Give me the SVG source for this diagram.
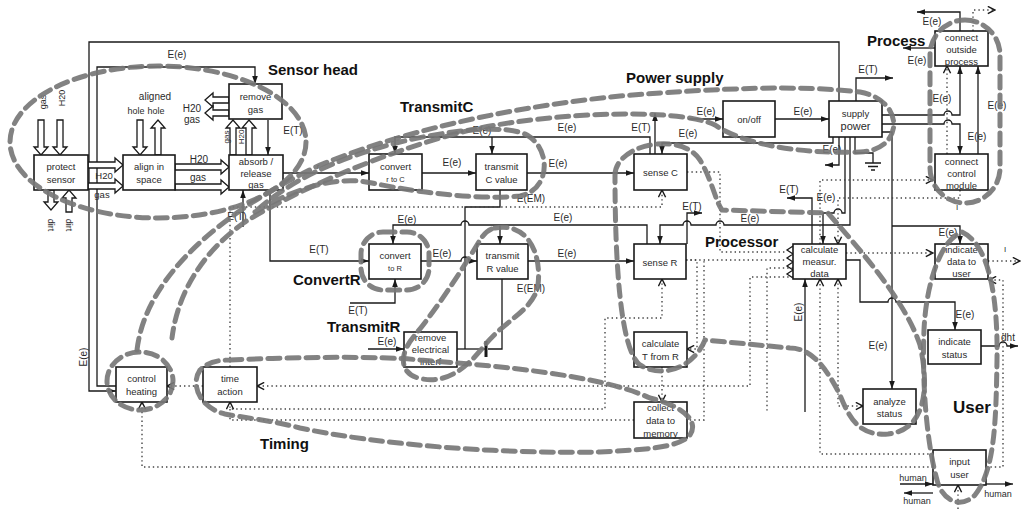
<svg xmlns="http://www.w3.org/2000/svg" width="1024" height="509" viewBox="0 0 1024 509">
<defs>
<style>
.b{fill:#fff;stroke:#1a1a1a;stroke-width:1.6}
.t{font-family:"Liberation Sans",Arial,sans-serif;font-size:9.5px;fill:#2a2a2a;text-anchor:middle}
.s{font-size:7.5px}
.l{font-family:"Liberation Sans",Arial,sans-serif;font-size:10px;fill:#2a2a2a;text-anchor:middle}
.g{font-family:"Liberation Sans",Arial,sans-serif;font-size:15px;font-weight:bold;fill:#111}
.c{fill:none;stroke:#1a1a1a;stroke-width:1.3}
.d{fill:none;stroke:#444;stroke-width:1.4;stroke-dasharray:1.4 3}
.h{fill:#fff;stroke:#1a1a1a;stroke-width:1.3}
.lp{fill:none;stroke:#777;stroke-width:5;stroke-dasharray:12 7;stroke-linecap:round;opacity:0.92}
</style>
<marker id="ar" markerUnits="userSpaceOnUse" markerWidth="8" markerHeight="8" viewBox="0 0 10 10" refX="10" refY="5" orient="auto-start-reverse"><path d="M0,1.5L10,5L0,8.5Z" fill="#1a1a1a"/></marker>
<marker id="op" markerUnits="userSpaceOnUse" markerWidth="9" markerHeight="9" viewBox="0 0 10 10" refX="9" refY="5" orient="auto-start-reverse"><path d="M1,1L9,5L1,9" fill="none" stroke="#1a1a1a" stroke-width="1.6"/></marker>
</defs>
<rect width="1024" height="509" fill="#fff"/>

<g id="connectors">
<path class="c" d="M839,101V42H89V391H116" marker-end="url(#ar)"/>
<path class="c" d="M116,386H97V67H255V84" marker-end="url(#ar)"/>
<path class="c" d="M268,120V155" marker-end="url(#ar)"/>
<path class="c" d="M283,173H369" marker-end="url(#ar)"/>
<path class="c" d="M422,173H476" marker-end="url(#ar)"/>
<path class="c" d="M527,173H634" marker-end="url(#ar)"/>
<path class="c" d="M650,154V137H395V154" marker-end="url(#ar)"/>
<path class="c" d="M492,137V154" marker-end="url(#ar)"/>
<path class="c" d="M655,154V113" marker-end="url(#ar)"/>
<path class="c" d="M833,137V143H662V154" marker-end="url(#ar)"/>
<path class="c" d="M688,119H723" marker-end="url(#ar)"/>
<path class="c" d="M775,119H829" marker-end="url(#ar)"/>
<path class="c" d="M856,101V78H893" marker-end="url(#ar)"/>
<path class="c" d="M882,115H944a4,4 0 0 1 8,0H960V66" marker-end="url(#ar)"/>
<path class="c" d="M882,124H944a4,4 0 0 1 8,0H960V154" marker-end="url(#ar)"/>
<path class="c" d="M978,154V66" marker-end="url(#ar)"/>
<path class="c" d="M960,31V12H917" marker-end="url(#ar)"/>
<path class="c" d="M935,48H903" marker-end="url(#ar)"/>
<path class="c" d="M855,137V153H873V163M865,163H881M868,166.5H878M871,170H875"/>
<path class="c" d="M839,137V165H825" marker-end="url(#ar)"/>
<path class="c" d="M845,137V213H842a4,4 0 0 0 -8,0H823V244" marker-end="url(#ar)"/>
<path class="c" d="M850,137V225H724a4,4 0 0 0 -8,0H691a4,4 0 0 0 -8,0H660V244" marker-end="url(#ar)"/>
<path class="c" d="M647,244V225H469a4,4 0 0 0 -8,0H393V244" marker-end="url(#ar)"/>
<path class="c" d="M500,225V244" marker-end="url(#ar)"/>
<path class="c" d="M812,244V198H787" marker-end="url(#ar)"/>
<path class="c" d="M687,244V213H702" marker-end="url(#ar)"/>
<path class="c" d="M882,132H892V389" marker-end="url(#ar)"/>
<path class="c" d="M892,226H960V244" marker-end="url(#ar)"/>
<path class="c" d="M846,260H860V302H888a4,4 0 0 1 8,0H955V330" marker-end="url(#ar)"/>
<path class="c" d="M981,346H999a4,4 0 0 1 8,0H1018" marker-end="url(#ar)"/>
<path class="c" d="M805,412V279" marker-end="url(#ar)"/>
<path class="c" d="M270,190V261H369" marker-end="url(#ar)"/>
<path class="c" d="M350,303H395V279" marker-end="url(#ar)"/>
<path class="c" d="M421,261H461a4,4 0 0 1 8,0H477" marker-end="url(#ar)"/>
<path class="c" d="M528,261H634" marker-end="url(#ar)"/>
<path class="c" d="M500,190V207H465V349"/>
<path class="c" d="M502,279V349H488"/>
<path class="c" d="M457,349H485"/>
<path d="M486,341V357" stroke="#1a1a1a" stroke-width="3"/>
<path class="c" d="M368,349H404" marker-end="url(#ar)"/>
<path class="c" d="M243,227V190" marker-end="url(#ar)"/>
<path class="c" d="M900,484H933" marker-end="url(#ar)"/>
<path class="c" d="M933,493H904" marker-end="url(#ar)"/>
<path class="c" d="M986,484H1013" marker-end="url(#ar)"/>
<path class="c" d="M793,246L787,250L793,254L787,258L793,262L787,266L793,270L787,274L793,278"/>
<path class="d" d="M230,367V207H662V190" marker-end="url(#op)"/>
<path class="d" d="M793,277H750V386H257" marker-end="url(#op)"/>
<path class="d" d="M203,386H167" marker-end="url(#op)"/>
<path class="d" d="M230,402V409H605V318H662V279" marker-start="url(#op)" marker-end="url(#op)"/>
<path class="d" d="M230,409V420H704V260"/>
<path class="d" d="M686,260H787"/>
<path class="d" d="M687,172H720V252H787"/>
<path class="d" d="M793,268H767V412"/>
<path class="d" d="M686,260H697V349H687" marker-end="url(#op)"/>
<path class="d" d="M662,367V402" marker-end="url(#op)"/>
<path class="d" d="M846,253H933" marker-end="url(#op)"/>
<path class="d" d="M988,261H1020" marker-end="url(#op)"/>
<path class="d" d="M986,467H1003V280H989" marker-end="url(#op)"/>
<path class="d" d="M933,467H142V402" marker-end="url(#op)"/>
<path class="d" d="M933,454H820V279" marker-end="url(#op)"/>
<path class="d" d="M838,279V406H863" marker-start="url(#op)" marker-end="url(#op)"/>
<path class="d" d="M820,244V180H933" marker-end="url(#op)"/>
<path class="d" d="M960,190V198H838V244" marker-end="url(#op)"/>
<path class="d" d="M947,154V66" marker-end="url(#op)"/>
<path class="d" d="M973,31V10H995" marker-end="url(#op)"/>
<path class="d" d="M958,509V485" marker-end="url(#op)"/>
<polygon class="h" points="38,120 38,147 34,147 41,155 48,147 44,147 44,120"/>
<polygon class="h" points="57,120 57,147 53,147 60,155 67,147 63,147 63,120"/>
<polygon class="h" points="48,190 48,202 44,202 51,210 58,202 54,202 54,190"/>
<polygon class="h" points="66,212 66,198 62,198 69,190 76,198 72,198 72,212"/>
<polygon class="h" points="88,162 115,162 115,158 123,165 115,172 115,168 88,168"/>
<polygon class="h" points="88,183 115,183 115,179 123,186 115,193 115,189 88,189"/>
<polygon class="h" points="175,164 221,164 221,160 229,167 221,174 221,170 175,170"/>
<polygon class="h" points="175,184 221,184 221,180 229,187 221,194 221,190 175,190"/>
<polygon class="h" points="229,97 213,97 213,93 205,100 213,107 213,103 229,103"/>
<polygon class="h" points="229,110 213,110 213,106 205,113 213,120 213,116 229,116"/>
<polygon class="h" points="230,155 230,128 226,128 233,120 240,128 236,128 236,155"/>
<polygon class="h" points="246,155 246,128 242,128 249,120 256,128 252,128 252,155"/>
<polygon class="h" points="137,120 137,147 133,147 140,155 147,147 143,147 143,120"/>
<polygon class="h" points="155,155 155,128 151,128 158,120 165,128 161,128 161,155"/>
</g>

<g id="edge-labels">
<text class="l" transform="translate(46,102) rotate(-90)" style="font-size:9px">gas</text>
<text class="l" transform="translate(65,98) rotate(-90)" style="font-size:9px">H20</text>
<text class="l" transform="translate(48,225) rotate(90)" style="font-size:9px">dirt</text>
<text class="l" transform="translate(66,225) rotate(90)" style="font-size:9px">dirt</text>
<text class="l" x="104" y="179" style="font-size:9.5px">H20</text>
<text class="l" x="102" y="198" style="font-size:9.5px">gas</text>
<text class="l" x="199" y="163">H20</text>
<text class="l" x="198" y="181">gas</text>
<text class="l" x="192" y="112">H20</text>
<text class="l" x="192" y="123">gas</text>
<text class="l" transform="translate(229,137) rotate(-90)" style="font-size:8px">gas</text>
<text class="l" transform="translate(244,137) rotate(-90)" style="font-size:8px">H20</text>
<text class="l" x="155" y="100">aligned</text>
<text class="l" x="136" y="114" style="font-size:9px">hole</text>
<text class="l" x="156" y="114" style="font-size:9px">hole</text>
<text class="l" transform="translate(87,357) rotate(-90)">E(e)</text>
<text class="l" x="177" y="58">E(e)</text>
<text class="l" x="293" y="134">E(T)</text>
<text class="l" x="318" y="169" style="font-size:8px">r</text>
<text class="l" x="452" y="166">E(e)</text>
<text class="l" x="558" y="167">E(e)</text>
<text class="l" x="482" y="134">E(e)</text>
<text class="l" x="567" y="131">E(e)</text>
<text class="l" x="641" y="131">E(T)</text>
<text class="l" x="688" y="137">E(e)</text>
<text class="l" x="706" y="115">E(e)</text>
<text class="l" x="803" y="115">E(e)</text>
<text class="l" x="868" y="73">E(T)</text>
<text class="l" x="942" y="102">E(e)</text>
<text class="l" x="977" y="140">E(e)</text>
<text class="l" x="997" y="109">E(e)</text>
<text class="l" x="932" y="25">E(e)</text>
<text class="l" x="917" y="64">E(e)</text>
<text class="l" x="832" y="153">E(e)</text>
<text class="l" x="826" y="201">E(e)</text>
<text class="l" x="789" y="193">E(T)</text>
<text class="l" x="692" y="210">E(T)</text>
<text class="l" x="750" y="222">E(e)</text>
<text class="l" x="563" y="221">E(e)</text>
<text class="l" x="407" y="223">E(e)</text>
<text class="l" x="948" y="236">E(e)</text>
<text class="l" x="965" y="318">E(e)</text>
<text class="l" x="1008" y="341">dht</text>
<text class="l" x="878" y="349">E(e)</text>
<text class="l" transform="translate(802,312) rotate(-90)">E(e)</text>
<text class="l" x="319" y="253">E(T)</text>
<text class="l" x="358" y="314">E(T)</text>
<text class="l" x="442" y="257">E(e)</text>
<text class="l" x="567" y="257">E(e)</text>
<text class="l" x="531" y="202">E(EM)</text>
<text class="l" x="531" y="292">E(EM)</text>
<text class="l" x="387" y="345">E(e)</text>
<text class="l" x="237" y="220">E(T)</text>
<text class="l" x="913" y="481" style="font-size:9px">human</text>
<text class="l" x="917" y="504" style="font-size:9px">human</text>
<text class="l" x="998" y="497" style="font-size:9px">human</text>
<text class="l" x="957" y="210" style="font-size:8px">I</text>
<text class="l" x="1005" y="252" style="font-size:8px">I</text>
</g>

<g id="protect-sensor"><rect class="b" x="34" y="155" width="54" height="35"/><text class="t"><tspan x="61" y="170">protect</tspan><tspan x="61" y="183">sensor</tspan></text></g>
<g id="align-in-space"><rect class="b" x="123" y="155" width="52" height="35"/><text class="t"><tspan x="149" y="170">align in</tspan><tspan x="149" y="183">space</tspan></text></g>
<g id="absorb-release-gas"><rect class="b" x="229" y="155" width="54" height="35"/><text class="t"><tspan x="256" y="165">absorb /</tspan><tspan x="256" y="176.5">release</tspan><tspan x="256" y="188">gas</tspan></text></g>
<g id="remove-gas"><rect class="b" x="229" y="84" width="53" height="35"/><text class="t"><tspan x="255.5" y="99.5">remove</tspan><tspan x="255.5" y="112.5">gas</tspan></text></g>
<g id="convert-r-to-c"><rect class="b" x="369" y="154" width="53" height="36"/><text class="t"><tspan x="395.5" y="170">convert</tspan><tspan class="s" x="395.5" y="182">r to C</tspan></text></g>
<g id="transmit-c-value"><rect class="b" x="476" y="154" width="51" height="36"/><text class="t"><tspan x="501.5" y="170">transmit</tspan><tspan x="501.5" y="183">C value</tspan></text></g>
<g id="sense-c"><rect class="b" x="634" y="154" width="53" height="36"/><text class="t" x="660.5" y="175.5">sense C</text></g>
<g id="on-off"><rect class="b" x="723" y="101" width="52" height="36"/><text class="t" x="749" y="122.5">on/off</text></g>
<g id="supply-power"><rect class="b" x="829" y="101" width="53" height="36"/><text class="t"><tspan x="855.5" y="117">supply</tspan><tspan x="855.5" y="130" style="font-size:11px">power</tspan></text></g>
<g id="connect-outside-process"><rect class="b" x="935" y="31" width="53" height="35"/><text class="t"><tspan x="961.5" y="40.5">connect</tspan><tspan x="961.5" y="52.5">outside</tspan><tspan x="961.5" y="64.5">process</tspan></text></g>
<g id="connect-control-module"><rect class="b" x="935" y="154" width="53" height="36"/><text class="t"><tspan x="961.5" y="164.5">connect</tspan><tspan x="961.5" y="176.5">control</tspan><tspan x="961.5" y="188.5">module</tspan></text></g>
<g id="convert-to-r"><rect class="b" x="369" y="244" width="52" height="35"/><text class="t"><tspan x="395" y="259">convert</tspan><tspan class="s" x="395" y="271">to R</tspan></text></g>
<g id="transmit-r-value"><rect class="b" x="477" y="244" width="51" height="35"/><text class="t"><tspan x="502.5" y="258.5">transmit</tspan><tspan x="502.5" y="271.5">R value</tspan></text></g>
<g id="sense-r"><rect class="b" x="634" y="244" width="52" height="35"/><text class="t" x="660" y="265.5">sense R</text></g>
<g id="calculate-measur-data"><rect class="b" x="793" y="244" width="53" height="35"/><text class="t"><tspan x="819.5" y="252.5">calculate</tspan><tspan x="819.5" y="264.5">measur.</tspan><tspan x="819.5" y="276.5">data</tspan></text></g>
<g id="indicate-data-to-user"><rect class="b" x="935" y="244" width="53" height="35"/><text class="t"><tspan x="961.5" y="252.5">indicate</tspan><tspan x="961.5" y="264.5">data to</tspan><tspan x="961.5" y="276.5">user</tspan></text></g>
<g id="indicate-status"><rect class="b" x="928" y="330" width="53" height="34"/><text class="t"><tspan x="954.5" y="344.5">indicate</tspan><tspan x="954.5" y="357.5">status</tspan></text></g>
<g id="analyze-status"><rect class="b" x="863" y="389" width="53" height="35"/><text class="t"><tspan x="889.5" y="404.5">analyze</tspan><tspan x="889.5" y="416.5">status</tspan></text></g>
<g id="input-user"><rect class="b" x="933" y="450" width="53" height="35"/><text class="t"><tspan x="959.5" y="464.5">input</tspan><tspan x="959.5" y="477.5">user</tspan></text></g>
<g id="control-heating"><rect class="b" x="116" y="367" width="51" height="35"/><text class="t"><tspan x="141.5" y="381.5">control</tspan><tspan x="141.5" y="394.5">heating</tspan></text></g>
<g id="time-action"><rect class="b" x="203" y="367" width="54" height="35"/><text class="t"><tspan x="230" y="381.5">time</tspan><tspan x="230" y="394.5">action</tspan></text></g>
<g id="remove-electrical-interf"><rect class="b" x="404" y="332" width="53" height="35"/><text class="t"><tspan x="430.5" y="341">remove</tspan><tspan x="430.5" y="353">electrical</tspan><tspan x="430.5" y="364.5">interf</tspan></text></g>
<g id="calculate-t-from-r"><rect class="b" x="634" y="332" width="53" height="35"/><text class="t"><tspan x="660.5" y="346.5">calculate</tspan><tspan x="660.5" y="359.5">T from R</tspan></text></g>
<g id="collect-data-to-memory"><rect class="b" x="634" y="402" width="53" height="36"/><text class="t"><tspan x="660.5" y="410.5">collect</tspan><tspan x="660.5" y="423.5">data to</tspan><tspan x="660.5" y="436.5">memory</tspan></text></g>

<g id="groups">
<ellipse class="lp" cx="158" cy="142" rx="148" ry="76"/>
<path class="lp" d="M137,350C145,280 215,215 320,165C410,128 520,106 620,96C720,88 800,85 860,92C905,100 905,150 860,152C800,154 745,145 715,125C680,108 560,112 480,128C400,145 300,188 245,222C205,250 178,290 172,338"/>
<path class="lp" d="M255,212C300,185 340,176 372,183C420,193 480,200 520,196C550,190 552,150 527,135C505,124 450,130 400,142C340,157 290,180 255,212Z"/>
<ellipse class="lp" cx="140" cy="381" rx="33" ry="29"/>
<rect class="lp" x="361" y="232" width="68" height="58" rx="22"/>
<path class="lp" d="M495,228C525,222 542,250 538,285C534,310 505,320 485,345C465,370 445,385 418,378C398,372 400,352 415,335C440,305 468,260 480,240C485,232 490,229 495,228Z"/>
<path class="lp" d="M230,360C300,357 380,356 420,360C500,366 600,375 650,398C680,405 700,420 690,435C680,448 640,450 600,452C500,454 380,445 300,428C270,420 245,418 225,414C200,408 190,385 200,370C208,362 218,360 230,360Z"/>
<path class="lp" d="M615,175C615,145 680,130 700,160C712,180 715,200 722,210L828,213C860,250 905,300 920,345C930,390 925,430 888,434C860,436 850,420 840,395C825,365 810,348 790,348L705,340C695,365 665,380 640,365C620,350 615,260 615,175Z"/>
<rect class="lp" x="930" y="20" width="70" height="183" rx="35"/>
<path class="lp" d="M962,232C990,245 998,300 997,360C996,420 995,470 975,495C960,510 942,500 937,480C926,440 922,380 924,330C926,285 940,240 962,232Z"/>
</g>

<g id="group-labels">
<text class="g" x="268" y="75">Sensor head</text>
<text class="g" x="400" y="112">TransmitC</text>
<text class="g" x="626" y="83">Power supply</text>
<text class="g" x="867" y="46">Process</text>
<text class="g" x="293" y="285">ConvertR</text>
<text class="g" x="327" y="332">TransmitR</text>
<text class="g" x="705" y="247">Processor</text>
<text class="g" x="260" y="449">Timing</text>
<text class="g" x="953" y="413" style="font-size:17px">User</text>
</g>
</svg>
